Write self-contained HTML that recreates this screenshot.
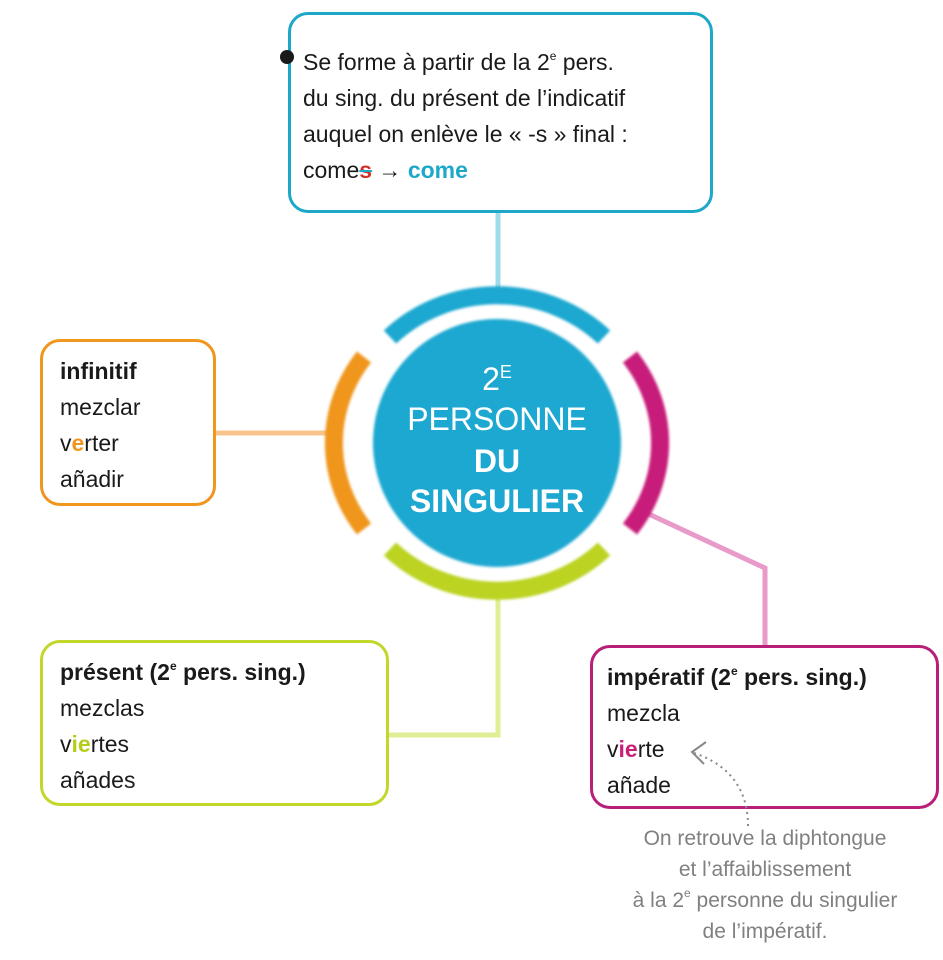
<!DOCTYPE html>
<html><head><meta charset="utf-8"><style>
body{margin:0;width:943px;height:960px;background:#fff;position:relative;overflow:hidden;font-family:"Liberation Sans","DejaVu Sans",sans-serif;color:#1a1a1a}
.box{position:absolute;background:#fff;border-radius:20px;box-sizing:border-box}
.t{position:absolute;font-size:23px;line-height:36px;white-space:nowrap}
sup{font-size:12px;vertical-align:10px;line-height:0}
</style></head><body>
<svg width="943" height="960" style="position:absolute;left:0;top:0">
<defs><filter id="f"><feGaussianBlur stdDeviation="1.2"/></filter></defs>
<g fill="none" stroke-width="5" opacity="0.75">
<line x1="498" y1="212" x2="498" y2="300" stroke="#7fd0e4"/>
<line x1="215" y1="433" x2="332" y2="433" stroke="#f5b066"/>
<polyline points="498,588 498,735 388,735" stroke="#d5e873"/>
<polyline points="640,510 765,568 765,646" stroke="#e07ab8"/>
</g>
<circle cx="497" cy="443" r="124" fill="#1ea8d0" filter="url(#f)"/>
<g fill="none" stroke-width="18" filter="url(#f)">
<path d="M390,337 A152,144 0 0 1 604,337" stroke="#1ea8d0"/>
<path d="M630,357 A152,144 0 0 1 630,529" stroke="#c81f7a"/>
<path d="M604,549 A152,144 0 0 1 390,549" stroke="#bcd321"/>
<path d="M364,529 A152,144 0 0 1 364,357" stroke="#f0961e"/>
</g>
<text x="497" y="390" fill="#fff" font-size="32" text-anchor="middle" font-family="Liberation Sans">2<tspan font-size="18" dy="-12">E</tspan></text>
<text x="497" y="430" fill="#fff" font-size="32" text-anchor="middle" font-family="Liberation Sans">PERSONNE</text>
<text x="497" y="472" fill="#fff" font-size="32" font-weight="bold" text-anchor="middle" font-family="Liberation Sans">DU</text>
<text x="497" y="512" fill="#fff" font-size="32" font-weight="bold" text-anchor="middle" font-family="Liberation Sans">SINGULIER</text>
</svg>
<div class="box" style="left:288px;top:12px;width:425px;height:201px;border:3px solid #1ea8c8"></div>
<div style="position:absolute;left:280px;top:50px;width:14px;height:14px;border-radius:50%;background:#1a1a1a"></div>
<div class="t" style="left:303px;top:44px">Se forme à partir de la 2<sup>e</sup> pers.<br>du sing. du présent de l’indicatif<br>auquel on enlève le « -s » final :<br>come<span style="color:#d0302a;font-weight:bold;text-decoration:line-through;text-decoration-color:#1ea8c8">s</span> → <b style="color:#1ea8c8">come</b></div>
<div class="box" style="left:40px;top:339px;width:176px;height:167px;border:3px solid #f0961e"></div>
<div class="t" style="left:60px;top:353px"><b>infinitif</b><br>mezclar<br>v<b style="color:#f0961e">e</b>rter<br>añadir</div>
<div class="box" style="left:40px;top:640px;width:349px;height:166px;border:3px solid #c3d62a"></div>
<div class="t" style="left:60px;top:654px"><b>présent (2<sup>e</sup> pers. sing.)</b><br>mezclas<br>v<b style="color:#b5cc1a">ie</b>rtes<br>añades</div>
<div class="box" style="left:590px;top:645px;width:349px;height:164px;border:3px solid #b81f78"></div>
<div class="t" style="left:607px;top:659px"><b>impératif (2<sup>e</sup> pers. sing.)</b><br>mezcla<br>v<b style="color:#c81f7a">ie</b>rte<br>añade</div>
<div class="t" style="left:580px;top:823px;width:370px;text-align:center;font-size:21px;line-height:31px;color:#808080">On retrouve la diphtongue<br>et l’affaiblissement<br>à la 2<sup>e</sup> personne du singulier<br>de l’impératif.</div>
<svg width="943" height="960" style="position:absolute;left:0;top:0">
<path d="M748,826 C748,790 730,765 694,753" fill="none" stroke="#888" stroke-width="2" stroke-dasharray="2,4"/>
<polyline points="706,742 692,752 704,764" fill="none" stroke="#888" stroke-width="2"/>
</svg>
</body></html>
